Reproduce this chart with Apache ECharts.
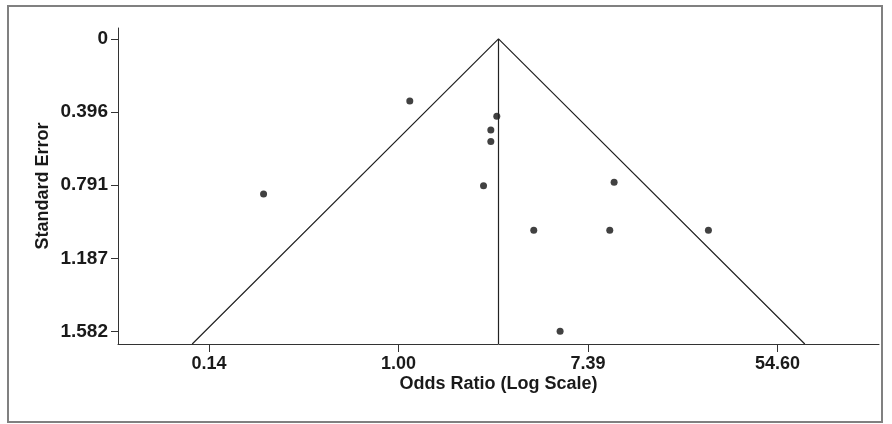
<!DOCTYPE html>
<html>
<head>
<meta charset="utf-8">
<script src="https://cdn.jsdelivr.net/npm/echarts@6/dist/echarts.min.js"></script>
<style>
  html, body { margin: 0; padding: 0; background: #fff; }
  #chart { width: 892px; height: 424px; }
</style>
</head>
<body>
<div id="chart"></div>
<script>
// study estimates: log odds ratio and its standard error
var logOdds = [-1.424, 0.119, 1.037, 0.974, 0.974, 0.897, 2.275, 1.427, 2.229, 3.270, 1.705];
var stdErr = [0.838, 0.335, 0.418, 0.492, 0.555, 0.793, 0.775, 1.034, 1.034, 1.034, 1.580];

// pooled log OR (centre of the funnel) and SE range of the plot
var pooledLogOR = 1.055;
var seRange = [-0.059, 1.649];
var xRange = [-2.96, 5.07];

// axis ticks
var xTickValues = [-2, 0, 2, 4];
var xTickLabels = ["0.14", "1.00", "7.39", "54.60"];
var yTickValues = [0, 0.396, 0.791, 1.187, 1.582];
var yTickLabels = ["0", "0.396", "0.791", "1.187", "1.582"];

var points = logOdds.map(function (v, i) { return [v, stdErr[i]]; });
var seMax = seRange[1];
var funnel = [
  [pooledLogOR - 1.96 * seMax, seMax],
  [pooledLogOR, 0],
  [pooledLogOR + 1.96 * seMax, seMax]
];
var centreLine = [[pooledLogOR, 0], [pooledLogOR, seMax]];

var font = "'Liberation Sans', Arial, sans-serif";
var chart = echarts.init(document.getElementById("chart"));

chart.setOption({
  animation: false,
  backgroundColor: "#fff",
  graphic: [{
    type: "rect",
    shape: { x: 8, y: 6, width: 874, height: 416 },
    style: { fill: "none", stroke: "#808080", lineWidth: 2 },
    silent: true
  }],
  grid: { left: 118, top: 28, right: 13, bottom: 80 },
  xAxis: {
    type: "value",
    min: xRange[0],
    max: xRange[1],
    name: "Odds Ratio (Log Scale)",
    nameLocation: "middle",
    nameGap: 31,
    nameMoveOverlap: false,
    nameTextStyle: { fontFamily: font, fontWeight: "bold", fontSize: 18, color: "#1a1a1a" },
    axisLine: { onZero: false, lineStyle: { color: "#333", width: 1 } },
    axisTick: { customValues: xTickValues, length: 8, lineStyle: { color: "#333" } },
    axisLabel: {
      customValues: xTickValues,
      margin: 11,
      fontFamily: font, fontWeight: "bold", fontSize: 18, color: "#1a1a1a",
      formatter: function (v) { return xTickLabels[xTickValues.indexOf(v)]; }
    },
    splitLine: { show: false }
  },
  yAxis: {
    type: "value",
    inverse: true,
    min: seRange[0],
    max: seRange[1],
    name: "Standard Error",
    nameLocation: "middle",
    nameGap: 66,
    nameMoveOverlap: false,
    nameTextStyle: { fontFamily: font, fontWeight: "bold", fontSize: 18, color: "#1a1a1a" },
    axisLine: { show: true, onZero: false, lineStyle: { color: "#333", width: 1 } },
    axisTick: { show: true, customValues: yTickValues, length: 7, lineStyle: { color: "#333" } },
    axisLabel: {
      customValues: yTickValues,
      margin: 10,
      fontFamily: font, fontWeight: "bold", fontSize: 19, color: "#1a1a1a",
      formatter: function (v) { return yTickLabels[yTickValues.indexOf(v)]; }
    },
    splitLine: { show: false }
  },
  series: [
    {
      type: "line",
      data: funnel,
      symbol: "none",
      lineStyle: { color: "#222", width: 1.2 },
      silent: true
    },
    {
      type: "line",
      data: centreLine,
      symbol: "none",
      lineStyle: { color: "#222", width: 1.2 },
      silent: true
    },
    {
      type: "scatter",
      data: points,
      symbol: "circle",
      symbolSize: 7,
      itemStyle: { color: "#111" }
    }
  ]
});
</script>
</body>
</html>
